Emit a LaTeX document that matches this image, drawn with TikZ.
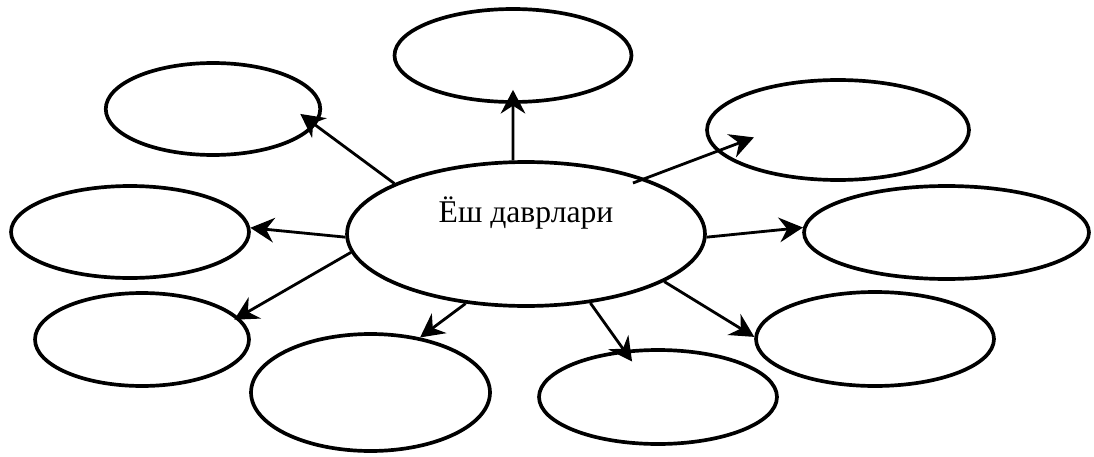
\documentclass[tikz,border=0pt]{standalone}
\usepackage{fontspec}
\setmainfont{Liberation Serif}
\usetikzlibrary{arrows.meta,shapes.geometric}

\begin{document}
\begin{tikzpicture}[x=0.02cm, y=-0.02cm,
            oval/.style={ellipse, draw=black, line width=2.1pt, inner sep=0pt},
            arr/.style={-{Stealth[length=13.5pt, width=14pt, inset=4.5pt]}, line width=1.6pt}]
            \useasboundingbox (0,0) rectangle (1094,456);
            \node[oval, minimum width=7.16cm, minimum height=2.88cm] (yosh) at (526,234) {};
            \node[font=\fontsize{18pt}{20pt}\selectfont, anchor=base] (yoshText) at (526,222) {Ёш даврлари};
            \node[oval, minimum width=4.74cm, minimum height=1.86cm] (oTop) at (513,55.5) {};
            \node[oval, minimum width=4.29cm, minimum height=1.84cm] (oUpLeft) at (213,109) {};
            \node[oval, minimum width=5.24cm, minimum height=2.00cm] (oUpRight) at (838,130) {};
            \node[oval, minimum width=4.76cm, minimum height=1.84cm] (oLeft) at (130,232) {};
            \node[oval, minimum width=5.70cm, minimum height=1.86cm] (oRight) at (946.5,232.5) {};
            \node[oval, minimum width=4.28cm, minimum height=1.86cm] (oLowLeft) at (142,339.5) {};
            \node[oval, minimum width=4.78cm, minimum height=2.34cm] (oDownLeft) at (370.5,392.5) {};
            \node[oval, minimum width=4.76cm, minimum height=1.88cm] (oDownRight) at (658,397) {};
            \node[oval, minimum width=4.76cm, minimum height=1.88cm] (oLowRight) at (875,339) {};
            \draw[arr, shorten >=-0.28cm] (yosh.100) -- (oTop.270);
            \draw[arr, shorten >=-0.38cm] (yosh.159) -- (oUpLeft.351);
            \draw[arr, shorten <=-0.26cm, shorten >=-0.79cm] (yosh.25) -- (oUpRight.190);
            \draw[arr] (yosh.181) -- (oLeft.2);
            \draw[arr] (yosh.359) -- (oRight.178);
            \draw[arr, shorten >=-0.1cm] (yosh.186) -- (oLowLeft.13);
            \draw[arr] (yosh.229) -- (oDownLeft.48);
            \draw[arr, shorten >=-0.28cm] (yosh.313) -- (oDownRight.126);
            \draw[arr] (yosh.341) -- (oLowRight.179);
        \end{tikzpicture}
\end{document}
